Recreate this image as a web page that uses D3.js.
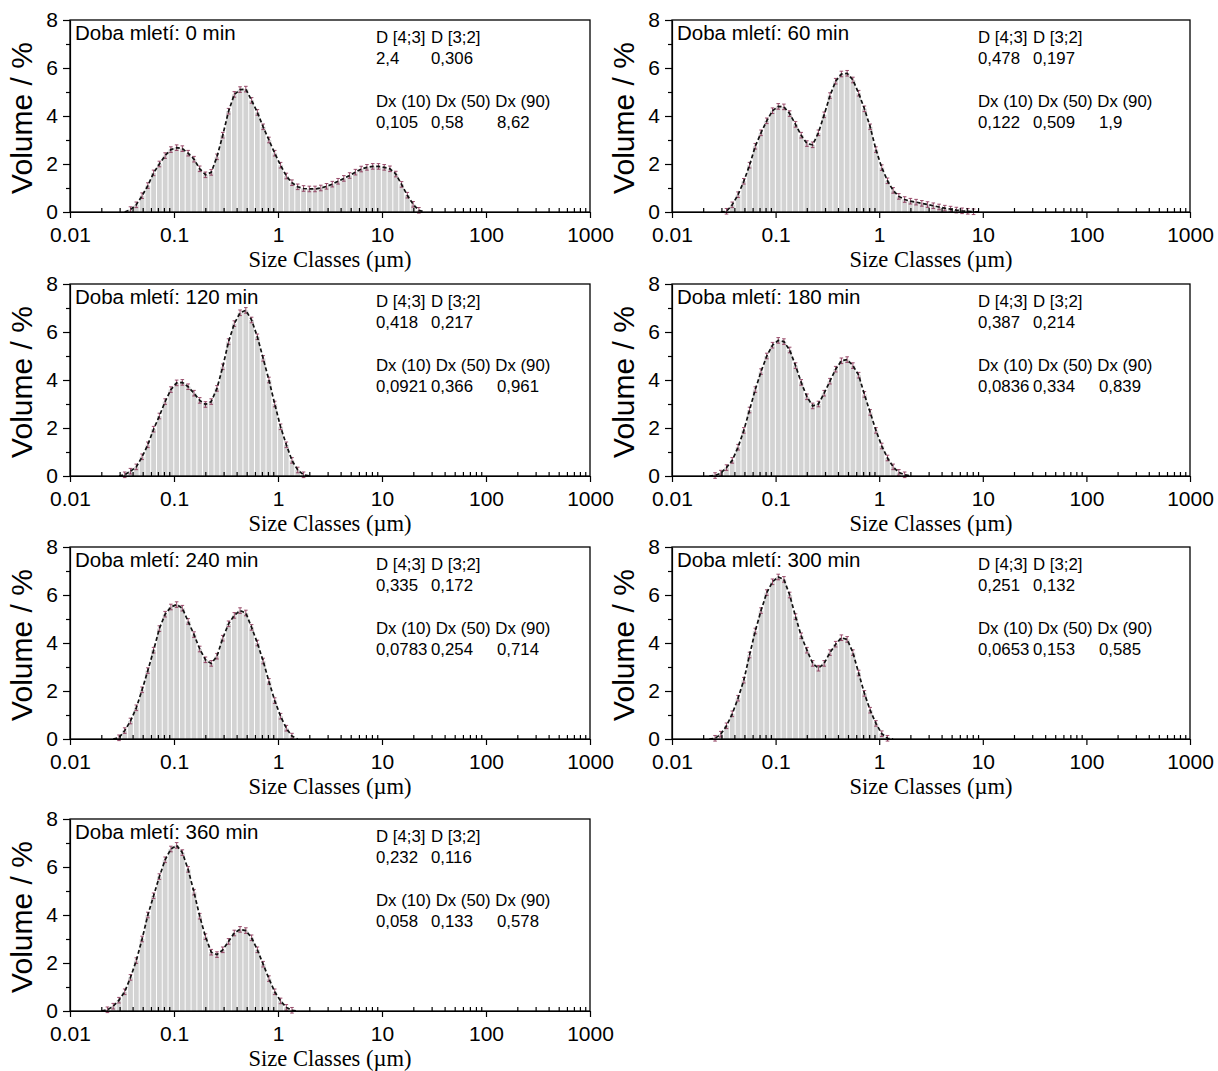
<!DOCTYPE html>
<html>
<head>
<meta charset="utf-8">
<script src="https://cdn.jsdelivr.net/npm/d3@7"></script>
<style>
  body { margin: 0; background: #fff; }
  text { font-family: "Liberation Sans", Arial, sans-serif; fill: #000; }
</style>
</head>
<body>
<div id="chart-area"></div>
<script>
// size class edges of the analyser (µm), class k spans sizeClasses[k]..sizeClasses[k+1]
const sizeClasses = [0.01, 0.0114, 0.0129, 0.0147, 0.0167, 0.0189, 0.0215, 0.0244, 0.0278, 0.0315,
  0.0358, 0.0407, 0.0463, 0.0526, 0.0597, 0.0679, 0.0771, 0.0876, 0.0995, 0.113,
  0.128, 0.146, 0.166, 0.188, 0.214, 0.243, 0.276, 0.314, 0.357, 0.405,
  0.46, 0.523, 0.594, 0.675, 0.767, 0.872, 0.991, 1.13, 1.28, 1.45,
  1.65, 1.88, 2.13, 2.42, 2.75, 3.12, 3.55, 4.03, 4.58, 5.21,
  5.92, 6.72, 7.64, 8.68, 9.86, 11.2, 12.7, 14.5, 16.4, 18.7,
  21.2, 24.1, 27.4, 31.1];

const millingTimes = [0, 60, 120, 180, 240, 300, 360];
// index of the size class where each series starts
const firstClass = [9, 8, 8, 6, 7, 6, 5];

// volume % per size class
const vol0 = [0, 0.1, 0.3, 0.68, 1.1, 1.63, 2.0, 2.35, 2.6, 2.68, 2.64, 2.45, 2.2, 1.8, 1.55, 1.65, 2.3, 3.2,
  4.2, 4.9, 5.1, 5.12, 4.65, 4.15, 3.55, 3.0, 2.45, 1.95, 1.5, 1.22, 1.05, 0.98, 0.96, 0.96, 1.0, 1.07,
  1.16, 1.28, 1.4, 1.52, 1.66, 1.79, 1.86, 1.9, 1.9, 1.86, 1.8, 1.58, 1.15, 0.7, 0.32, 0.07, 0];
const vol60 = [0, 0.03, 0.3, 0.72, 1.28, 1.95, 2.74, 3.3, 3.8, 4.22, 4.4, 4.38, 4.1, 3.65, 3.2, 2.85, 2.8,
  3.3, 4.05, 4.85, 5.45, 5.75, 5.78, 5.5, 4.95, 4.3, 3.55, 2.6, 1.85, 1.3, 0.9, 0.65, 0.52, 0.45, 0.41,
  0.36, 0.31, 0.26, 0.21, 0.16, 0.12, 0.08, 0.05, 0.03, 0.01, 0];
const vol120 = [0, 0.05, 0.2, 0.38, 0.8, 1.3, 1.95, 2.5, 3.1, 3.6, 3.88, 3.9, 3.72, 3.45, 3.15, 2.98, 3.1,
  3.65, 4.55, 5.6, 6.35, 6.8, 6.9, 6.5, 5.8, 4.9, 4.0, 3.0, 2.05, 1.3, 0.65, 0.25, 0.05, 0];
const vol180 = [0, 0.02, 0.12, 0.35, 0.65, 1.2, 1.9, 2.75, 3.6, 4.35, 5.0, 5.45, 5.65, 5.6, 5.25, 4.6, 3.9,
  3.3, 2.92, 3.0, 3.45, 3.95, 4.45, 4.8, 4.85, 4.6, 4.2, 3.4, 2.65, 1.9, 1.25, 0.75, 0.38, 0.15, 0.05, 0];
const vol240 = [0, 0.05, 0.35, 0.75, 1.3, 2.05, 2.85, 3.7, 4.6, 5.2, 5.5, 5.6, 5.45, 4.9, 4.35, 3.75, 3.3,
  3.15, 3.45, 4.2, 4.8, 5.15, 5.35, 5.25, 4.65, 4.0, 3.25, 2.4, 1.6, 0.95, 0.45, 0.12, 0];
const vol300 = [0, 0.03, 0.2, 0.55, 1.05, 1.7, 2.45, 3.5, 4.5, 5.35, 6.1, 6.55, 6.75, 6.65, 6.0, 5.1, 4.3,
  3.7, 3.15, 2.95, 3.15, 3.6, 3.95, 4.22, 4.15, 3.6, 2.75, 1.9, 1.2, 0.65, 0.22, 0.03, 0];
const vol360 = [0, 0.05, 0.2, 0.45, 0.8, 1.4, 2.1, 3.0, 4.0, 4.8, 5.6, 6.3, 6.75, 6.9, 6.6, 5.9, 4.95,
  3.95, 3.1, 2.45, 2.35, 2.55, 2.9, 3.25, 3.4, 3.35, 3.05, 2.55, 1.95, 1.35, 0.8, 0.42, 0.15, 0.03, 0];
const volumes = [vol0, vol60, vol120, vol180, vol240, vol300, vol360];

// statistics printed in each panel
const d43 = ["2,4", "0,478", "0,418", "0,387", "0,335", "0,251", "0,232"];
const d32 = ["0,306", "0,197", "0,217", "0,214", "0,172", "0,132", "0,116"];
const dx10 = ["0,105", "0,122", "0,0921", "0,0836", "0,0783", "0,0653", "0,058"];
const dx50 = ["0,58", "0,509", "0,366", "0,334", "0,254", "0,153", "0,133"];
const dx90 = ["8,62", "1,9", "0,961", "0,839", "0,714", "0,585", "0,578"];

const xTicks = [0.01, 0.1, 1, 10, 100, 1000];
const xTickLabels = ["0.01", "0.1", "1", "10", "100", "1000"];
const yTicks = [0, 2, 4, 6, 8];
const yMinorTicks = [1, 3, 5, 7];

const COL_LEFT = [70, 672];
const PLOT_W = [520, 518];
const ROW_TOP = [20, 284, 547, 819];
const PLOT_H = 192;
const SANS = '"Liberation Sans", Arial, sans-serif';

const svg = d3.select("#chart-area").append("svg")
  .attr("width", 1218)
  .attr("height", 1071);

function drawPanel(i) {
  const col = i % 2, row = Math.floor(i / 2);
  const W = PLOT_W[col];

  const g = svg.append("g")
    .attr("transform", `translate(${COL_LEFT[col]}, ${ROW_TOP[row]})`);

  const x = d3.scaleLog().domain([0.01, 1000]).range([0, W]);
  const y = d3.scaleLinear().domain([0, 8]).range([PLOT_H, 0]);

  const data = volumes[i].map((v, j) => {
    const lo = sizeClasses[firstClass[i] + j], hi = sizeClasses[firstClass[i] + j + 1];
    return { lo: lo, hi: hi, mid: Math.sqrt(lo * hi), v: v };
  });
  const filled = data.filter(d => d.v > 0);

  g.selectAll("rect.bar")
    .data(filled)
    .enter().append("rect")
    .attr("class", "bar")
    .attr("x", d => x(d.lo) + 0.5)
    .attr("width", d => x(d.hi) - x(d.lo) - 1)
    .attr("y", d => y(d.v))
    .attr("height", d => PLOT_H - y(d.v))
    .attr("fill", "#d3d3d3");

  // small error markers
  const err = g.selectAll("g.err")
    .data(filled)
    .enter().append("g")
    .attr("transform", d => `translate(${x(d.mid)}, ${y(d.v)})`)
    .attr("stroke", "#8e3b5c")
    .attr("stroke-width", 0.9);
  err.append("line").attr("y1", -2.8).attr("y2", 2.8);
  err.append("line").attr("x1", -1.8).attr("x2", 1.8).attr("y1", -2.8).attr("y2", -2.8);
  err.append("line").attr("x1", -1.8).attr("x2", 1.8).attr("y1", 2.8).attr("y2", 2.8);

  const line = d3.line()
    .x(d => x(d.mid))
    .y(d => y(d.v));

  g.append("path")
    .datum(data)
    .attr("d", line)
    .attr("fill", "none")
    .attr("stroke", "#111")
    .attr("stroke-width", 1.7)
    .attr("stroke-dasharray", "4,2.5");

  g.append("rect")
    .attr("width", W)
    .attr("height", PLOT_H)
    .attr("fill", "none")
    .attr("stroke", "#000")
    .attr("stroke-width", 1.3);

  // x axis
  const xAxis = g.append("g")
    .attr("transform", `translate(0, ${PLOT_H})`)
    .call(d3.axisBottom(x)
      .tickValues(xTicks)
      .tickFormat((d, k) => xTickLabels[k])
      .tickSize(6)
      .tickSizeOuter(0)
      .tickPadding(9));
  const xMinor = x.ticks().filter(t => xTicks.indexOf(t) < 0);
  g.append("g")
    .attr("transform", `translate(0, ${PLOT_H})`)
    .call(d3.axisBottom(x).tickValues(xMinor).tickFormat("").tickSize(-4).tickSizeOuter(0))
    .select(".domain").remove();

  // y axis
  const yAxis = g.append("g")
    .call(d3.axisLeft(y)
      .tickValues(yTicks)
      .tickSize(7)
      .tickSizeOuter(0)
      .tickPadding(5));
  g.append("g")
    .call(d3.axisLeft(y).tickValues(yMinorTicks).tickFormat("").tickSize(4).tickSizeOuter(0))
    .select(".domain").remove();

  g.selectAll(".tick line, .domain").attr("stroke", "#000").attr("stroke-width", 1.2);
  xAxis.selectAll("text").style("font-size", "21px").style("font-family", SANS);
  yAxis.selectAll("text").style("font-size", "21px").style("font-family", SANS);

  // axis titles
  g.append("text")
    .attr("transform", `translate(-38, ${PLOT_H / 2 + 2}) rotate(-90)`)
    .attr("text-anchor", "middle")
    .style("font-size", "30px")
    .text("Volume / %");

  g.append("text")
    .attr("x", W / 2)
    .attr("y", PLOT_H + 55)
    .attr("text-anchor", "middle")
    .style("font-family", '"Liberation Serif", "Times New Roman", serif')
    .style("font-size", "22.5px")
    .text("Size Classes (µm)");

  // labels inside the panel
  g.append("text")
    .attr("x", 5)
    .attr("y", 20)
    .style("font-size", "20.5px")
    .text(`Doba mletí: ${millingTimes[i]} min`);

  const stats = g.append("g").style("font-size", "16.8px");
  const c1 = 306, c2 = 361, c3 = 427;
  stats.append("text").attr("x", c1).attr("y", 23).text("D [4;3]");
  stats.append("text").attr("x", c2).attr("y", 23).text("D [3;2]");
  stats.append("text").attr("x", c1).attr("y", 44).text(d43[i]);
  stats.append("text").attr("x", c2).attr("y", 44).text(d32[i]);
  stats.append("text").attr("x", c1).attr("y", 87).text("Dx (10) Dx (50) Dx (90)");
  stats.append("text").attr("x", c1).attr("y", 108).text(dx10[i]);
  stats.append("text").attr("x", c2).attr("y", 108).text(dx50[i]);
  stats.append("text").attr("x", c3).attr("y", 108).text(dx90[i]);
}

millingTimes.forEach((t, i) => drawPanel(i));
</script>
</body>
</html>
